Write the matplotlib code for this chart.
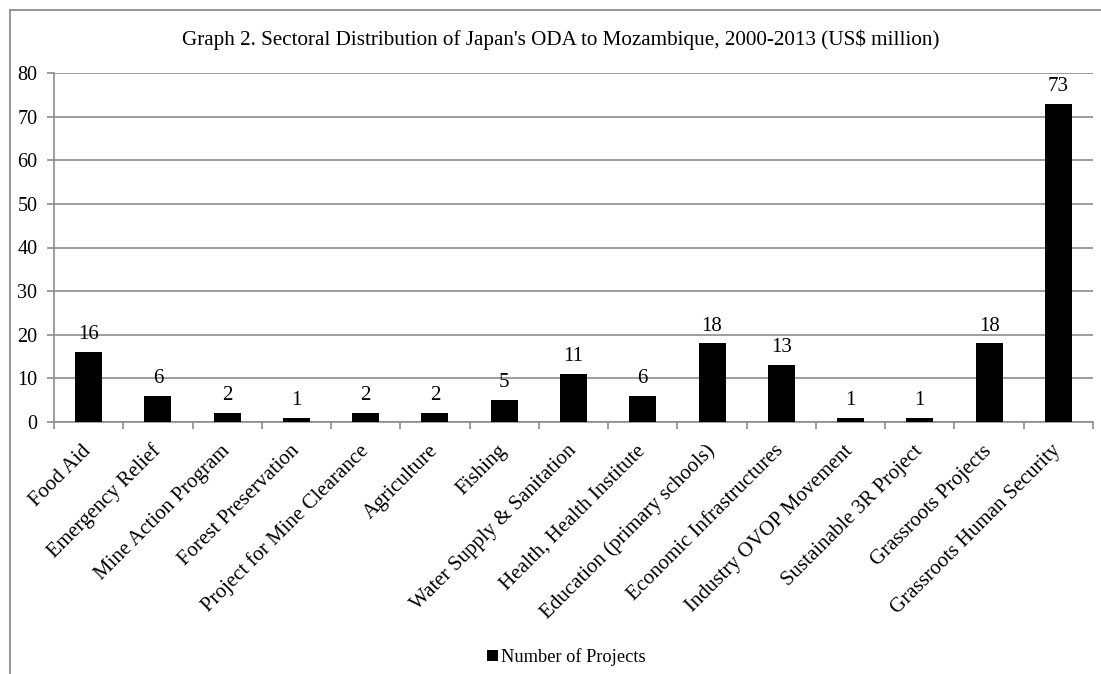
import matplotlib
matplotlib.use("Agg")
import matplotlib.pyplot as plt
from matplotlib.patches import Rectangle
import numpy as np

plt.rcParams['font.family'] = ['Liberation Serif', 'DejaVu Serif']

categories = [
    "Food Aid", "Emergency Relief", "Mine Action Program", "Forest Preservation",
    "Project for Mine Clearance", "Agriculture", "Fishing", "Water Supply & Sanitation",
    "Health, Health Institute", "Education (primary schools)", "Economic Infrastructures",
    "Industry OVOP Movement", "Sustainable 3R Project", "Grassroots Projects",
    "Grassroots Human Security",
]
projects = [16, 6, 2, 1, 2, 2, 5, 11, 6, 18, 13, 1, 1, 18, 73]
yticks = [0, 10, 20, 30, 40, 50, 60, 70, 80]
title = "Graph 2. Sectoral Distribution of Japan's ODA to Mozambique, 2000-2013 (US$ million)"
series_name = "Number of Projects"

W, H = 1101, 674
fig = plt.figure(figsize=(W / 100, H / 100), dpi=100)
fig.patch.set_facecolor("white")

# chart frame (extends past the right and bottom edges)
fig.add_artist(Rectangle((10 / W, -0.05), 1.2, 1 - 10 / H + 0.05,
                         transform=fig.transFigure, fill=False,
                         edgecolor="#8c8c8c", linewidth=1.3))

ax = fig.add_axes([54 / W, 1 - 422 / H, (1093 - 54) / W, (422 - 73) / H])
x = np.arange(len(categories))
ax.bar(x, projects, width=0.39, color="black", zorder=3, label=series_name)

ax.set_xlim(-0.5, len(categories) - 0.5)
ax.set_ylim(0, 80)
ax.set_yticks(yticks)
ax.yaxis.grid(True, color="#8c8c8c", linewidth=1.2, zorder=0)
ax.set_axisbelow(True)
for side in ("top", "right"):
    ax.spines[side].set_visible(False)
for side in ("left", "bottom"):
    ax.spines[side].set_color("#8c8c8c")
    ax.spines[side].set_linewidth(1.2)

ax.set_xticks(np.arange(len(categories) + 1) - 0.5, minor=False)
ax.set_xticklabels([])
ax.tick_params(axis="x", which="major", length=5, color="#8c8c8c", width=1.2)
ax.tick_params(axis="y", length=5, color="#8c8c8c", width=1.2, pad=7, labelsize=14.5)

for xi, name in zip(x, categories):
    ax.text(xi + 0.0, -6.0, name, rotation=45, rotation_mode="anchor",
            ha="right", va="center", fontsize=15)

for xi, v in zip(x, projects):
    ax.text(xi, v + 1.8, f"{v}", ha="center", va="bottom", fontsize=15)

fig.text(561 / W, 1 - 40 / H, title, ha="center", va="center", fontsize=15.2)

ax.legend(loc="center", bbox_to_anchor=(566 / W, 1 - 657 / H),
          bbox_transform=fig.transFigure, frameon=False, fontsize=13.2,
          handlelength=0.6, handleheight=0.6, handletextpad=0.15)

fig.savefig("out.png", dpi=100)
